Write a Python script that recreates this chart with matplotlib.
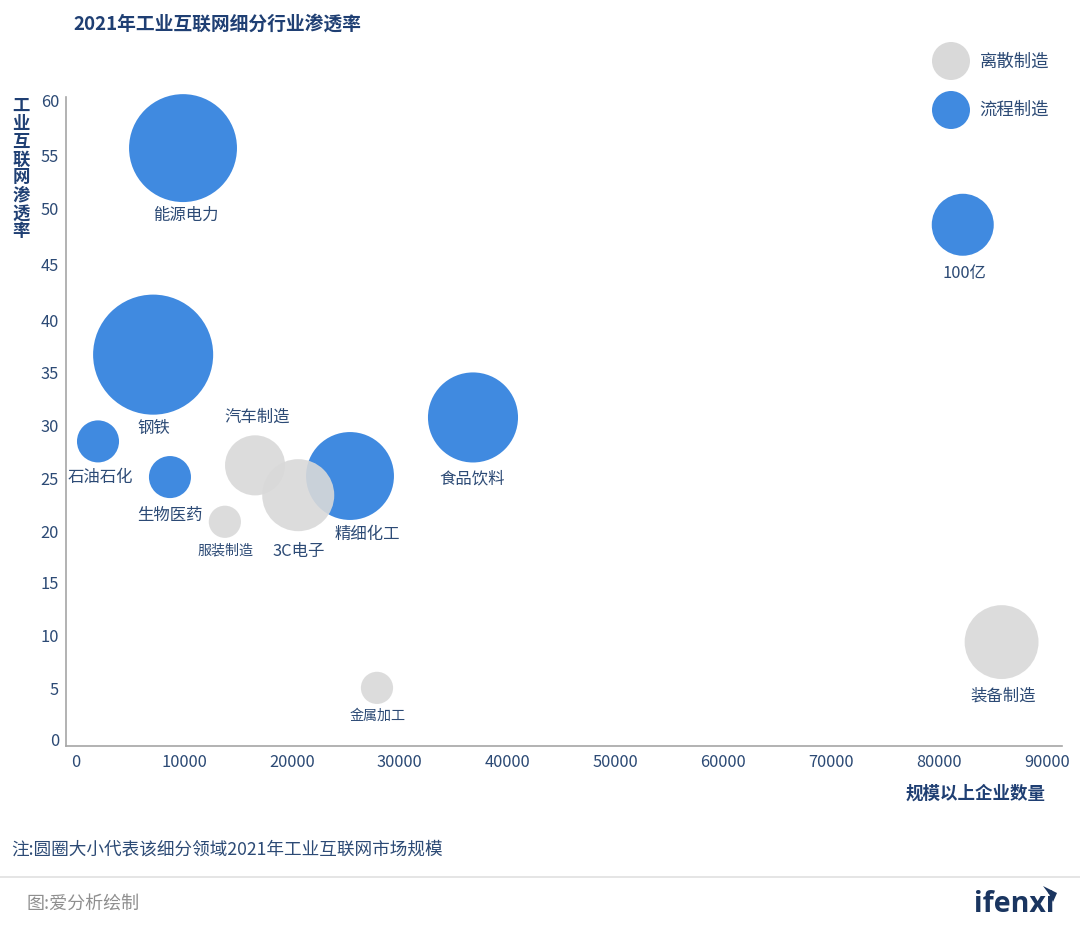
"""2021 industrial internet penetration by sub-sector, bubble chart."""
import matplotlib
matplotlib.use('Agg')
import matplotlib.pyplot as plt
from matplotlib.patches import Polygon

plt.rcParams['font.family'] = ['Noto Sans CJK SC', 'DejaVu Sans']

W, H = 1080, 928
NAVY = '#2c4a75'
DARK = '#1f3f73'
BLUE = '#408ae0'
GRAY = '#d9d9d9'

# 流程制造
flow_names = ['能源电力', '钢铁', '石油石化', '生物医药', '精细化工', '食品饮料', '100亿']
flow_x = [9920, 7150, 2040, 8710, 25400, 36800, 82200]
flow_y = [55.6, 36.2, 28.05, 24.7, 24.8, 30.3, 48.4]
flow_size = [303, 375, 46, 46, 201, 211, 100]
flow_label_x = [10200, 7200, 2250, 8700, 27000, 36750, 82400]
flow_label_y = [49.4, 29.4, 24.8, 21.2, 19.4, 24.6, 43.9]

# 离散制造
disc_names = ['汽车制造', '3C电子', '服装制造', '金属加工', '装备制造']
disc_x = [16600, 20600, 13800, 27900, 85800]
disc_y = [25.8, 23.0, 20.5, 4.9, 9.2]
disc_size = [94, 135, 27, 27, 142]
disc_label_x = [16800, 20650, 13900, 27950, 85900]
disc_label_y = [30.4, 17.8, 17.9, 2.4, 4.2]
disc_label_fs = [11.8, 11.8, 10.1, 10.1, 11.8]

x_ticks = [0, 10000, 20000, 30000, 40000, 50000, 60000, 70000, 80000, 90000]
y_tick_labels = ['0', '5', '10', '15', '20', '25', '30', '35', '40', '45', '50', '55', '60']
# the source axis labels are hand placed and not quite evenly spaced
y_tick_pos = [0.19, 4.9, 9.9, 14.9, 19.72, 24.62, 29.62, 34.62, 39.53, 44.72, 50, 55, 60.19]

SIZE_K = 19.93   # marker area per 亿元

fig = plt.figure(figsize=(W / 100, H / 100), dpi=100, facecolor='white')
ax = fig.add_axes([66 / W, 1 - 747 / H, (1062 - 66) / W, (747 - 98) / H])
ax.set_xlim(-927, 91400)
ax.set_ylim(-0.56, 60.4)

ax.scatter(flow_x, flow_y, s=[v * SIZE_K for v in flow_size], color=BLUE,
           linewidths=0, zorder=2, clip_on=False)
ax.scatter(disc_x, disc_y, s=[v * SIZE_K for v in disc_size], color=GRAY,
           alpha=0.9, linewidths=0, zorder=3, clip_on=False)

for nm, x, y in zip(flow_names, flow_label_x, flow_label_y):
    ax.text(x, y, nm, ha='center', va='center', fontsize=11.8, color=NAVY, zorder=4)
for nm, x, y, fs in zip(disc_names, disc_label_x, disc_label_y, disc_label_fs):
    ax.text(x, y, nm, ha='center', va='center', fontsize=fs, color=NAVY, zorder=4)

for side in ('top', 'right'):
    ax.spines[side].set_visible(False)
for side in ('left', 'bottom'):
    ax.spines[side].set_color('#a6a6a6')
    ax.spines[side].set_linewidth(1.2)
ax.set_xticks(x_ticks)
ax.set_yticks(y_tick_pos, y_tick_labels)
ax.tick_params(axis='x', length=0, pad=5, labelsize=11.8, labelcolor=NAVY)
ax.tick_params(axis='y', length=0, pad=5, labelsize=11.8, labelcolor=NAVY)
ax.patch.set_alpha(0)

# overlay in pixel coordinates for the page furniture
page = fig.add_axes([0, 0, 1, 1], zorder=-1)
page.set_xlim(0, W)
page.set_ylim(H, 0)
page.axis('off')

page.text(73, 24, '2021年工业互联网细分行业渗透率', fontsize=13.5, fontweight='bold',
          color=DARK, ha='left', va='center')
page.text(21, 168.5, '工\n业\n互\n联\n网\n渗\n透\n率', fontsize=12.5, fontweight='bold',
          color=DARK, ha='center', va='center', linespacing=1.0)
page.text(975.5, 794, '规模以上企业数量', fontsize=12.6, fontweight='bold',
          color=DARK, ha='center', va='center')

# legend
page.scatter([951, 951], [62, 111], s=(2 * 19 * 0.72) ** 2, color=[GRAY, BLUE], linewidths=0)
page.text(979.5, 61.5, '离散制造', fontsize=12.5, color=NAVY, ha='left', va='center')
page.text(979.5, 109.5, '流程制造', fontsize=12.5, color=NAVY, ha='left', va='center')

# footer
page.text(11, 850, '注:圆圈大小代表该细分领域2021年工业互联网市场规模', fontsize=12.7,
          color=NAVY, ha='left', va='center')
page.plot([0, W], [877.5, 877.5], color='#e3e3e3', lw=1.3)
page.text(26, 904, '图:爱分析绘制', fontsize=13, color='#8f8f8f', ha='left', va='center')
page.text(974, 905, 'ifenxi', fontsize=20.5, fontweight='bold', color='#1a3560',
          family=['Open Sans'], ha='left', va='center')
page.add_patch(Polygon([[1043, 887], [1057, 894], [1053, 903], [1049, 895]],
                       closed=True, color='#1a3560', lw=0))

fig.savefig('out.png', dpi=100, facecolor='white')
